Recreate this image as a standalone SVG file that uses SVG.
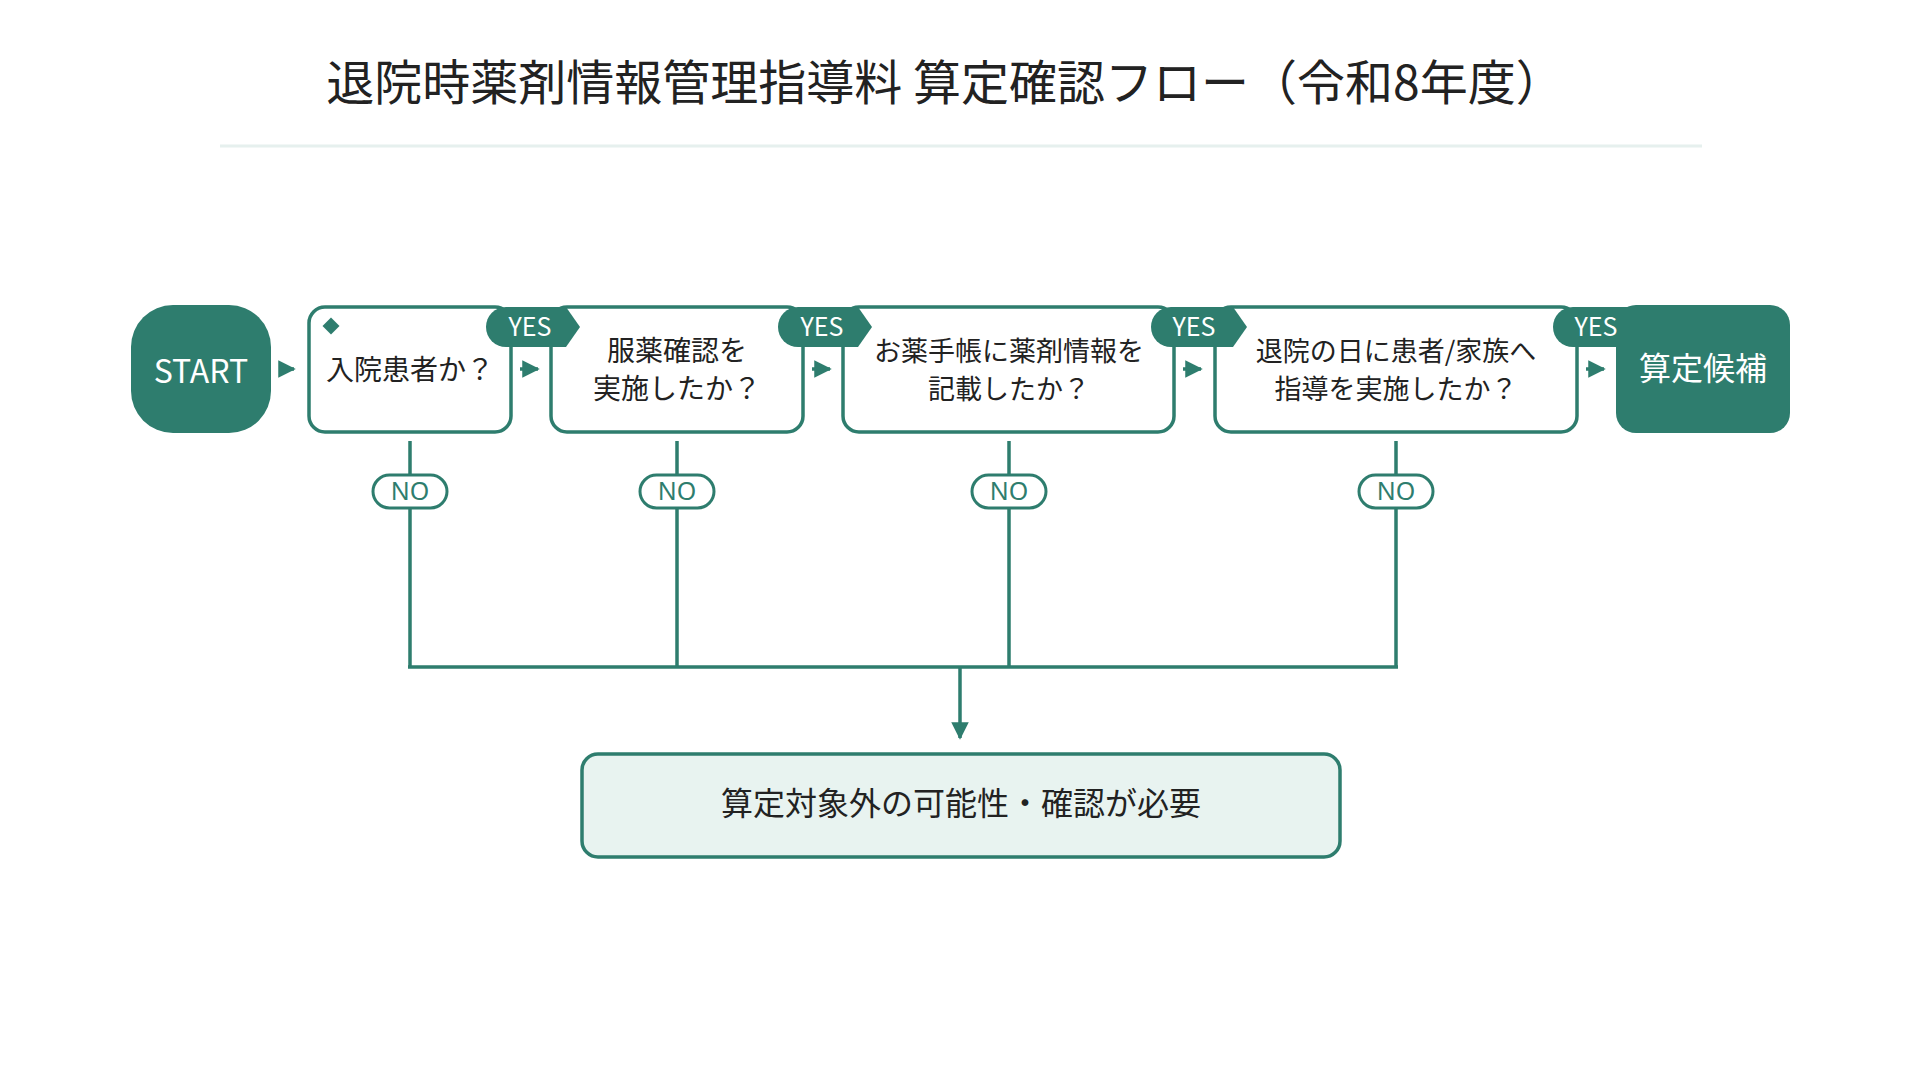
<svg xmlns="http://www.w3.org/2000/svg" width="1920" height="1080" viewBox="0 0 1920 1080">
<defs>
<style>
.t{font-family:"Noto Sans CJK JP","Noto Sans",sans-serif;fill:#222;text-anchor:middle}
.box{fill:#fff;stroke:#2e7d6e;stroke-width:3.5}
.term{fill:#2e7d6e}
.w{font-family:"Noto Sans CJK JP","Noto Sans",sans-serif;fill:#fff;text-anchor:middle}
.ln{stroke:#2e7d6e;stroke-width:3.5;fill:none}
.no{fill:#fff;stroke:#2e7d6e;stroke-width:3}
.not{font-family:"Noto Sans","Noto Sans CJK JP",sans-serif;fill:#2e7d6e;text-anchor:middle;font-size:25px}
</style>
<marker id="ah" viewBox="0 0 10 10" refX="9" refY="5" markerWidth="5" markerHeight="5" orient="auto"><path d="M0,0L10,5L0,10z" fill="#2e7d6e"/></marker>
</defs>
<rect width="1920" height="1080" fill="#fff"/>
<text class="t" x="945" y="100" font-size="48">退院時薬剤情報管理指導料 算定確認フロー（令和8年度）</text>
<line x1="220" y1="146" x2="1702" y2="146" stroke="#e6f0ee" stroke-width="3"/>

<g id="connectors">
<path class="ln" d="M279,369H294" marker-end="url(#ah)"/>
<path class="ln" d="M520,369H538" marker-end="url(#ah)"/>
<path class="ln" d="M812,369H830" marker-end="url(#ah)"/>
<path class="ln" d="M1183,369H1201" marker-end="url(#ah)"/>
<path class="ln" d="M1586,369H1604" marker-end="url(#ah)"/>
<path class="ln" d="M410,441V667M677,441V667M1009,441V667M1396,441V667M408,667H1398"/>
<path class="ln" d="M960,667V738" marker-end="url(#ah)"/>
<g id="no1"><rect class="no" x="373" y="475" width="74" height="33" rx="16.5"/><text class="not" x="410" y="500">NO</text></g>
<g id="no2"><rect class="no" x="640" y="475" width="74" height="33" rx="16.5"/><text class="not" x="677" y="500">NO</text></g>
<g id="no3"><rect class="no" x="972" y="475" width="74" height="33" rx="16.5"/><text class="not" x="1009" y="500">NO</text></g>
<g id="no4"><rect class="no" x="1359" y="475" width="74" height="33" rx="16.5"/><text class="not" x="1396" y="500">NO</text></g>
</g>

<g id="start"><rect class="term" x="131" y="305" width="140" height="128" rx="42"/><text class="w" x="201" y="383" font-size="32">START</text></g>

<g id="q1"><rect class="box" x="309" y="307" width="202" height="125" rx="16"/>
<rect x="325" y="320" width="12" height="12" fill="#2e7d6e" transform="rotate(45 331 326)"/>
<text class="t" x="410" y="380" font-size="28">入院患者か？</text></g>
<g id="q2"><rect class="box" x="551" y="307" width="252" height="125" rx="16"/>
<text class="t" x="677" y="361" font-size="28">服薬確認を</text><text class="t" x="677" y="399" font-size="28">実施したか？</text></g>
<g id="q3"><rect class="box" x="843" y="307" width="331" height="125" rx="16"/>
<text class="t" x="1009" y="361" font-size="27">お薬手帳に薬剤情報を</text><text class="t" x="1009" y="399" font-size="27">記載したか？</text></g>
<g id="q4"><rect class="box" x="1215" y="307" width="362" height="125" rx="16"/>
<text class="t" x="1396" y="361" font-size="27">退院の日に患者/家族へ</text><text class="t" x="1396" y="399" font-size="27">指導を実施したか？</text></g>
<g id="end"><rect class="term" x="1616" y="305" width="174" height="128" rx="20"/><text class="w" x="1703" y="380" font-size="32">算定候補</text></g>

<g id="yes1"><path class="term" d="M506,307H566L580,327L566,347H506A20,20 0 0 1 506,307Z"/><text class="w" x="530" y="336" font-size="25">YES</text></g>
<g id="yes2"><path class="term" d="M798,307H858L872,327L858,347H798A20,20 0 0 1 798,307Z"/><text class="w" x="822" y="336" font-size="25">YES</text></g>
<g id="yes3"><path class="term" d="M1171,307H1233L1247,327L1233,347H1171A20,20 0 0 1 1171,307Z"/><text class="w" x="1194" y="336" font-size="25">YES</text></g>
<g id="yes4"><path class="term" d="M1573,307H1630V347H1573A20,20 0 0 1 1573,307Z"/><text class="w" x="1596" y="336" font-size="25">YES</text></g>

<g id="result"><rect x="582" y="754" width="758" height="103" rx="16" fill="#e8f3f0" stroke="#2e7d6e" stroke-width="3.5"/>
<text class="t" x="961" y="815" font-size="32">算定対象外の可能性・確認が必要</text></g>
</svg>
